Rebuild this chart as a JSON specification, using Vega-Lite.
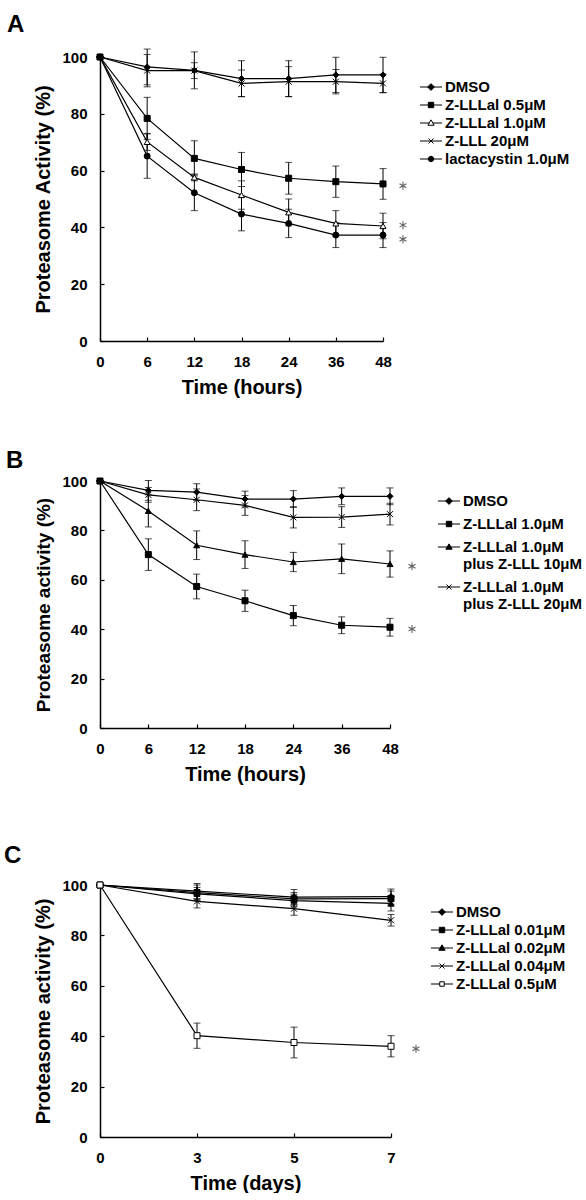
{
  "$schema": "https://vega.github.io/schema/vega-lite/v6.json",
  "padding": {"left": 4, "top": 12, "right": 0, "bottom": 0},
  "background": "white",
  "config": {
    "font": "Liberation Sans",
    "view": {"stroke": null},
    "axis": {"domainColor": "black", "domainWidth": 1.5, "tickColor": "black", "tickWidth": 1.2, "tickSize": -4, "labelFont": "Liberation Sans", "labelFontSize": 15, "labelFontWeight": "bold", "labelColor": "black", "titleFont": "Liberation Sans", "titleFontSize": 20, "titleFontWeight": "bold", "titleColor": "black", "grid": false},
    "axisX": {"labelPadding": 17, "titlePadding": 8, "labelAngle": 0},
    "axisY": {"labelPadding": 17, "titlePadding": 8},
    "legend": {"labelFont": "Liberation Sans", "labelFontSize": 15, "labelFontWeight": "bold", "labelColor": "black", "symbolSize": 225, "symbolStrokeWidth": 1, "labelOffset": 6, "rowPadding": 2, "padding": 0, "labelLimit": 300, "orient": "none"},
    "title": {"font": "Liberation Sans", "fontSize": 24, "fontWeight": "bold", "color": "black", "anchor": "start", "frame": "group", "baseline": "alphabetic"}
  },
  "datasets": {
    "A": [
      {"series": "DMSO", "t": 0, "mean": 100, "sd": 0},
      {"series": "DMSO", "t": 6, "mean": 96.5, "sd": 6.3},
      {"series": "DMSO", "t": 12, "mean": 95.3, "sd": 6.5},
      {"series": "DMSO", "t": 18, "mean": 92.4, "sd": 6.3},
      {"series": "DMSO", "t": 24, "mean": 92.4, "sd": 6.3},
      {"series": "DMSO", "t": 36, "mean": 93.7, "sd": 6.2},
      {"series": "DMSO", "t": 48, "mean": 93.7, "sd": 6.2},
      {"series": "Z-LLLal 0.5μM", "t": 0, "mean": 100, "sd": 0},
      {"series": "Z-LLLal 0.5μM", "t": 6, "mean": 78.4, "sd": 7.4},
      {"series": "Z-LLLal 0.5μM", "t": 12, "mean": 64.3, "sd": 6.2},
      {"series": "Z-LLLal 0.5μM", "t": 18, "mean": 60.4, "sd": 6.0},
      {"series": "Z-LLLal 0.5μM", "t": 24, "mean": 57.3, "sd": 5.6},
      {"series": "Z-LLLal 0.5μM", "t": 36, "mean": 56.1, "sd": 5.5},
      {"series": "Z-LLLal 0.5μM", "t": 48, "mean": 55.3, "sd": 5.4},
      {"series": "Z-LLLal 1.0μM", "t": 0, "mean": 100, "sd": 0},
      {"series": "Z-LLLal 1.0μM", "t": 6, "mean": 70.1, "sd": 3.0},
      {"series": "Z-LLLal 1.0μM", "t": 12, "mean": 57.6, "sd": 1.2},
      {"series": "Z-LLLal 1.0μM", "t": 18, "mean": 51.4, "sd": 5.0},
      {"series": "Z-LLLal 1.0μM", "t": 24, "mean": 45.3, "sd": 4.7},
      {"series": "Z-LLLal 1.0μM", "t": 36, "mean": 41.4, "sd": 4.5},
      {"series": "Z-LLLal 1.0μM", "t": 48, "mean": 40.5, "sd": 4.5},
      {"series": "Z-LLL 20μM", "t": 0, "mean": 100, "sd": 0},
      {"series": "Z-LLL 20μM", "t": 6, "mean": 95.2, "sd": 5.7},
      {"series": "Z-LLL 20μM", "t": 12, "mean": 95.2, "sd": 2.8},
      {"series": "Z-LLL 20μM", "t": 18, "mean": 90.7, "sd": 4.7},
      {"series": "Z-LLL 20μM", "t": 24, "mean": 91.3, "sd": 5.3},
      {"series": "Z-LLL 20μM", "t": 36, "mean": 91.3, "sd": 4.3},
      {"series": "Z-LLL 20μM", "t": 48, "mean": 90.7, "sd": 3.3},
      {"series": "lactacystin 1.0μM", "t": 0, "mean": 100, "sd": 0},
      {"series": "lactacystin 1.0μM", "t": 6, "mean": 65.1, "sd": 7.8},
      {"series": "lactacystin 1.0μM", "t": 12, "mean": 52.2, "sd": 6.3},
      {"series": "lactacystin 1.0μM", "t": 18, "mean": 44.7, "sd": 5.9},
      {"series": "lactacystin 1.0μM", "t": 24, "mean": 41.4, "sd": 5.0},
      {"series": "lactacystin 1.0μM", "t": 36, "mean": 37.3, "sd": 4.4},
      {"series": "lactacystin 1.0μM", "t": 48, "mean": 37.3, "sd": 4.4}
    ],
    "Astar": [
      {"t": 48, "y": 54.7},
      {"t": 48, "y": 40.8},
      {"t": 48, "y": 35.8}
    ],
    "B": [
      {"series": "DMSO", "t": 0, "mean": 100, "sd": 0},
      {"series": "DMSO", "t": 6, "mean": 96.2, "sd": 4.0},
      {"series": "DMSO", "t": 12, "mean": 95.5, "sd": 3.4},
      {"series": "DMSO", "t": 18, "mean": 92.7, "sd": 3.2},
      {"series": "DMSO", "t": 24, "mean": 92.7, "sd": 3.4},
      {"series": "DMSO", "t": 36, "mean": 93.8, "sd": 3.4},
      {"series": "DMSO", "t": 48, "mean": 93.8, "sd": 3.4},
      {"series": "Z-LLLal 1.0μM", "t": 0, "mean": 100, "sd": 0},
      {"series": "Z-LLLal 1.0μM", "t": 6, "mean": 70.2, "sd": 6.4},
      {"series": "Z-LLLal 1.0μM", "t": 12, "mean": 57.3, "sd": 5.0},
      {"series": "Z-LLLal 1.0μM", "t": 18, "mean": 51.5, "sd": 4.3},
      {"series": "Z-LLLal 1.0μM", "t": 24, "mean": 45.5, "sd": 4.1},
      {"series": "Z-LLLal 1.0μM", "t": 36, "mean": 41.6, "sd": 3.4},
      {"series": "Z-LLLal 1.0μM", "t": 48, "mean": 40.8, "sd": 3.6},
      {"series": "Z-LLLal 1.0μM plus Z-LLL 10μM", "t": 0, "mean": 100, "sd": 0},
      {"series": "Z-LLLal 1.0μM plus Z-LLL 10μM", "t": 6, "mean": 87.9, "sd": 6.5},
      {"series": "Z-LLLal 1.0μM plus Z-LLL 10μM", "t": 12, "mean": 74.0, "sd": 5.8},
      {"series": "Z-LLLal 1.0μM plus Z-LLL 10μM", "t": 18, "mean": 70.2, "sd": 5.6},
      {"series": "Z-LLLal 1.0μM plus Z-LLL 10μM", "t": 24, "mean": 67.2, "sd": 3.9},
      {"series": "Z-LLLal 1.0μM plus Z-LLL 10μM", "t": 36, "mean": 68.5, "sd": 6.0},
      {"series": "Z-LLLal 1.0μM plus Z-LLL 10μM", "t": 48, "mean": 66.4, "sd": 5.3},
      {"series": "Z-LLLal 1.0μM plus Z-LLL 20μM", "t": 0, "mean": 100, "sd": 0},
      {"series": "Z-LLLal 1.0μM plus Z-LLL 20μM", "t": 6, "mean": 94.4, "sd": 3.0},
      {"series": "Z-LLLal 1.0μM plus Z-LLL 20μM", "t": 12, "mean": 92.4, "sd": 4.4},
      {"series": "Z-LLLal 1.0μM plus Z-LLL 20μM", "t": 18, "mean": 90.1, "sd": 4.0},
      {"series": "Z-LLLal 1.0μM plus Z-LLL 20μM", "t": 24, "mean": 85.3, "sd": 4.3},
      {"series": "Z-LLLal 1.0μM plus Z-LLL 20μM", "t": 36, "mean": 85.4, "sd": 4.2},
      {"series": "Z-LLLal 1.0μM plus Z-LLL 20μM", "t": 48, "mean": 86.6, "sd": 4.4}
    ],
    "Bstar": [
      {"t": 48, "y": 65.5},
      {"t": 48, "y": 40.1}
    ],
    "C": [
      {"series": "DMSO", "t": 0, "mean": 100, "sd": 0},
      {"series": "DMSO", "t": 3, "mean": 97.6, "sd": 3.0},
      {"series": "DMSO", "t": 5, "mean": 95.2, "sd": 3.0},
      {"series": "DMSO", "t": 7, "mean": 95.4, "sd": 3.0},
      {"series": "Z-LLLal 0.01μM", "t": 0, "mean": 100, "sd": 0},
      {"series": "Z-LLLal 0.01μM", "t": 3, "mean": 97.0, "sd": 3.0},
      {"series": "Z-LLLal 0.01μM", "t": 5, "mean": 94.5, "sd": 2.5},
      {"series": "Z-LLLal 0.01μM", "t": 7, "mean": 94.6, "sd": 3.0},
      {"series": "Z-LLLal 0.02μM", "t": 0, "mean": 100, "sd": 0},
      {"series": "Z-LLLal 0.02μM", "t": 3, "mean": 96.5, "sd": 2.5},
      {"series": "Z-LLLal 0.02μM", "t": 5, "mean": 93.8, "sd": 2.5},
      {"series": "Z-LLLal 0.02μM", "t": 7, "mean": 92.7, "sd": 3.0},
      {"series": "Z-LLLal 0.04μM", "t": 0, "mean": 100, "sd": 0},
      {"series": "Z-LLLal 0.04μM", "t": 3, "mean": 93.5, "sd": 2.6},
      {"series": "Z-LLLal 0.04μM", "t": 5, "mean": 90.6, "sd": 2.6},
      {"series": "Z-LLLal 0.04μM", "t": 7, "mean": 86.0, "sd": 2.3},
      {"series": "Z-LLLal 0.5μM", "t": 0, "mean": 100, "sd": 0},
      {"series": "Z-LLLal 0.5μM", "t": 3, "mean": 40.2, "sd": 5.0},
      {"series": "Z-LLLal 0.5μM", "t": 5, "mean": 37.5, "sd": 6.1},
      {"series": "Z-LLLal 0.5μM", "t": 7, "mean": 36.0, "sd": 4.2}
    ],
    "Cstar": [
      {"t": 7, "y": 35}
    ]
  },
  "spacing": 52,
  "vconcat": [
    {
      "title": {"text": "A", "dx": -93, "offset": 12},
      "width": 283,
      "height": 284,
      "layer": [
        {"data": {"name": "A"}, "mark": {"type": "line", "color": "black", "strokeWidth": 1.2},
         "encoding": {
           "x": {"field": "t", "type": "ordinal", "scale": {"type": "point", "padding": 0}, "title": "Time (hours)"},
           "y": {"field": "mean", "type": "quantitative", "scale": {"domain": [0, 100], "nice": false}, "axis": {"values": [0, 20, 40, 60, 80, 100], "titleFontSize": 20}, "title": "Proteasome Activity (%)"},
           "detail": {"field": "series"}}},
        {"data": {"name": "A"}, "mark": {"type": "errorbar", "color": "black", "thickness": 1, "ticks": {"size": 7}},
         "encoding": {
           "x": {"field": "t", "type": "ordinal", "title": "Time (hours)"},
           "y": {"field": "mean", "type": "quantitative", "title": "Proteasome Activity (%)"},
           "yError": {"field": "sd"}}},
        {"data": {"name": "A"}, "mark": {"type": "point", "filled": true, "stroke": "black", "strokeWidth": 1, "size": 36, "opacity": 1},
         "encoding": {
           "x": {"field": "t", "type": "ordinal", "title": "Time (hours)"},
           "y": {"field": "mean", "type": "quantitative", "title": "Proteasome Activity (%)"},
           "shape": {"field": "series", "type": "nominal", "legend": null, "scale": {"domain": ["DMSO", "Z-LLLal 0.5μM", "Z-LLLal 1.0μM", "Z-LLL 20μM", "lactacystin 1.0μM"], "range": ["diamond", "square", "triangle-up", "M-1,-1L1,1M-1,1L1,-1", "circle"]}},
           "fill": {"field": "series", "type": "nominal", "legend": null, "scale": {"domain": ["DMSO", "Z-LLLal 0.5μM", "Z-LLLal 1.0μM", "Z-LLL 20μM", "lactacystin 1.0μM"], "range": ["black", "black", "white", "black", "black"]}}}},
        {"data": {"name": "Astar"}, "mark": {"type": "point", "shape": "M0,-1V1M-0.87,-0.5L0.87,0.5M-0.87,0.5L0.87,-0.5", "size": 64, "stroke": "#222222", "strokeWidth": 1.1, "filled": false, "xOffset": 20},
         "encoding": {
           "x": {"field": "t", "type": "ordinal", "title": "Time (hours)"},
           "y": {"field": "y", "type": "quantitative", "title": "Proteasome Activity (%)"}}},
        {"data": {"values": []}, "mark": {"type": "point", "filled": false, "strokeWidth": 1, "opacity": 1},
         "encoding": {
           "shape": {"field": "series", "type": "nominal", "legend": {"title": null, "legendX": 323, "legendY": 22}, "scale": {"domain": ["DMSO", "Z-LLLal 0.5μM", "Z-LLLal 1.0μM", "Z-LLL 20μM", "lactacystin 1.0μM"], "range": ["M-1.47,0H1.47M0,-0.45L0.45,0L0,0.45L-0.45,0Z", "M-1.47,0H1.47M-0.36,-0.36H0.36V0.36H-0.36Z", "M-1.47,0H-0.245M0.245,0H1.47M0,-0.42L0.42,0.3L-0.42,0.3Z", "M-1.47,0H1.47M-0.33,-0.33L0.33,0.33M-0.33,0.33L0.33,-0.33", "M-1.47,0H1.47M0.36,0A0.36,0.36,0,1,1,-0.36,0A0.36,0.36,0,1,1,0.36,0Z"]}},
           "fill": {"field": "series", "type": "nominal", "legend": {"title": null, "legendX": 323, "legendY": 22}, "scale": {"domain": ["DMSO", "Z-LLLal 0.5μM", "Z-LLLal 1.0μM", "Z-LLL 20μM", "lactacystin 1.0μM"], "range": ["black", "black", "white", "black", "black"]}},
           "stroke": {"field": "series", "type": "nominal", "legend": {"title": null, "legendX": 323, "legendY": 22}, "scale": {"domain": ["DMSO", "Z-LLLal 0.5μM", "Z-LLLal 1.0μM", "Z-LLL 20μM", "lactacystin 1.0μM"], "range": ["black", "black", "black", "black", "black"]}}}}
      ],
      "resolve": {"scale": {"shape": "independent", "fill": "independent", "stroke": "independent"}}
    },
    {
      "vconcat": [
        {
          "title": {"text": "B", "dx": -94, "offset": 1},
          "width": 290,
          "height": 247,
          "layer": [
            {"data": {"name": "B"}, "mark": {"type": "line", "color": "black", "strokeWidth": 1.2},
             "encoding": {
               "x": {"field": "t", "type": "ordinal", "scale": {"type": "point", "padding": 0}, "title": "Time (hours)"},
               "y": {"field": "mean", "type": "quantitative", "scale": {"domain": [0, 100], "nice": false}, "axis": {"values": [0, 20, 40, 60, 80, 100], "titleFontSize": 19}, "title": "Proteasome activity (%)"},
               "detail": {"field": "series"}}},
            {"data": {"name": "B"}, "mark": {"type": "errorbar", "color": "black", "thickness": 1, "ticks": {"size": 7}},
             "encoding": {
               "x": {"field": "t", "type": "ordinal", "title": "Time (hours)"},
               "y": {"field": "mean", "type": "quantitative", "title": "Proteasome activity (%)"},
               "yError": {"field": "sd"}}},
            {"data": {"name": "B"}, "mark": {"type": "point", "filled": true, "stroke": "black", "strokeWidth": 1, "size": 36, "opacity": 1},
             "encoding": {
               "x": {"field": "t", "type": "ordinal", "title": "Time (hours)"},
               "y": {"field": "mean", "type": "quantitative", "title": "Proteasome activity (%)"},
               "shape": {"field": "series", "type": "nominal", "legend": null, "scale": {"domain": ["DMSO", "Z-LLLal 1.0μM", "Z-LLLal 1.0μM plus Z-LLL 10μM", "Z-LLLal 1.0μM plus Z-LLL 20μM"], "range": ["diamond", "square", "triangle-up", "M-1,-1L1,1M-1,1L1,-1"]}},
               "fill": {"field": "series", "type": "nominal", "legend": null, "scale": {"domain": ["DMSO", "Z-LLLal 1.0μM", "Z-LLLal 1.0μM plus Z-LLL 10μM", "Z-LLLal 1.0μM plus Z-LLL 20μM"], "range": ["black", "black", "black", "black"]}}}},
            {"data": {"name": "Bstar"}, "mark": {"type": "point", "shape": "M0,-1V1M-0.87,-0.5L0.87,0.5M-0.87,0.5L0.87,-0.5", "size": 64, "stroke": "#222222", "strokeWidth": 1.1, "filled": false, "xOffset": 22},
             "encoding": {
               "x": {"field": "t", "type": "ordinal", "title": "Time (hours)"},
               "y": {"field": "y", "type": "quantitative", "title": "Proteasome activity (%)"}}},
            {"data": {"values": []}, "mark": {"type": "point", "filled": false, "strokeWidth": 1, "opacity": 1},
             "encoding": {
               "shape": {"field": "series", "type": "nominal", "legend": {"title": null, "legendX": 341, "legendY": 12, "rowPadding": 7, "labelExpr": "indexof(datum.label, ' plus') > 0 ? [slice(datum.label, 0, indexof(datum.label, ' plus')), slice(datum.label, indexof(datum.label, ' plus') + 1)] : datum.label"}, "scale": {"domain": ["DMSO", "Z-LLLal 1.0μM", "Z-LLLal 1.0μM plus Z-LLL 10μM", "Z-LLLal 1.0μM plus Z-LLL 20μM"], "range": ["M-1.47,0H1.47M0,-0.45L0.45,0L0,0.45L-0.45,0Z", "M-1.47,0H1.47M-0.36,-0.36H0.36V0.36H-0.36Z", "M-1.47,0H1.47M0,-0.42L0.42,0.3L-0.42,0.3Z", "M-1.47,0H1.47M-0.33,-0.33L0.33,0.33M-0.33,0.33L0.33,-0.33"]}},
               "fill": {"field": "series", "type": "nominal", "legend": {"title": null, "legendX": 341, "legendY": 12, "rowPadding": 7, "labelExpr": "indexof(datum.label, ' plus') > 0 ? [slice(datum.label, 0, indexof(datum.label, ' plus')), slice(datum.label, indexof(datum.label, ' plus') + 1)] : datum.label"}, "scale": {"domain": ["DMSO", "Z-LLLal 1.0μM", "Z-LLLal 1.0μM plus Z-LLL 10μM", "Z-LLLal 1.0μM plus Z-LLL 20μM"], "range": ["black", "black", "black", "black"]}},
               "stroke": {"field": "series", "type": "nominal", "legend": {"title": null, "legendX": 341, "legendY": 12, "rowPadding": 7, "labelExpr": "indexof(datum.label, ' plus') > 0 ? [slice(datum.label, 0, indexof(datum.label, ' plus')), slice(datum.label, indexof(datum.label, ' plus') + 1)] : datum.label"}, "scale": {"domain": ["DMSO", "Z-LLLal 1.0μM", "Z-LLLal 1.0μM plus Z-LLL 10μM", "Z-LLLal 1.0μM plus Z-LLL 20μM"], "range": ["black", "black", "black", "black"]}}}}
          ],
          "resolve": {"scale": {"shape": "independent", "fill": "independent", "stroke": "independent"}}
        },
        {
          "title": {"text": "C", "dx": -96, "offset": 10},
          "width": 291,
          "height": 252,
          "layer": [
            {"data": {"name": "C"}, "mark": {"type": "line", "color": "black", "strokeWidth": 1.2},
             "encoding": {
               "x": {"field": "t", "type": "ordinal", "scale": {"type": "point", "padding": 0}, "title": "Time (days)"},
               "y": {"field": "mean", "type": "quantitative", "scale": {"domain": [0, 100], "nice": false}, "axis": {"values": [0, 20, 40, 60, 80, 100], "titleFontSize": 20}, "title": "Proteasome activity (%)"},
               "detail": {"field": "series"}}},
            {"data": {"name": "C"}, "mark": {"type": "errorbar", "color": "black", "thickness": 1, "ticks": {"size": 7}},
             "encoding": {
               "x": {"field": "t", "type": "ordinal", "title": "Time (days)"},
               "y": {"field": "mean", "type": "quantitative", "title": "Proteasome activity (%)"},
               "yError": {"field": "sd"}}},
            {"data": {"name": "C"}, "mark": {"type": "point", "filled": true, "stroke": "black", "strokeWidth": 1, "size": 36, "opacity": 1},
             "encoding": {
               "x": {"field": "t", "type": "ordinal", "title": "Time (days)"},
               "y": {"field": "mean", "type": "quantitative", "title": "Proteasome activity (%)"},
               "shape": {"field": "series", "type": "nominal", "legend": null, "scale": {"domain": ["DMSO", "Z-LLLal 0.01μM", "Z-LLLal 0.02μM", "Z-LLLal 0.04μM", "Z-LLLal 0.5μM"], "range": ["diamond", "square", "triangle-up", "M-1,-1L1,1M-1,1L1,-1", "square"]}},
               "fill": {"field": "series", "type": "nominal", "legend": null, "scale": {"domain": ["DMSO", "Z-LLLal 0.01μM", "Z-LLLal 0.02μM", "Z-LLLal 0.04μM", "Z-LLLal 0.5μM"], "range": ["black", "black", "black", "black", "white"]}}}},
            {"data": {"name": "Cstar"}, "mark": {"type": "point", "shape": "M0,-1V1M-0.87,-0.5L0.87,0.5M-0.87,0.5L0.87,-0.5", "size": 64, "stroke": "#222222", "strokeWidth": 1.1, "filled": false, "xOffset": 25},
             "encoding": {
               "x": {"field": "t", "type": "ordinal", "title": "Time (days)"},
               "y": {"field": "y", "type": "quantitative", "title": "Proteasome activity (%)"}}},
            {"data": {"values": []}, "mark": {"type": "point", "filled": false, "strokeWidth": 1, "opacity": 1},
             "encoding": {
               "shape": {"field": "series", "type": "nominal", "legend": {"title": null, "legendX": 334, "legendY": 19}, "scale": {"domain": ["DMSO", "Z-LLLal 0.01μM", "Z-LLLal 0.02μM", "Z-LLLal 0.04μM", "Z-LLLal 0.5μM"], "range": ["M-1.47,0H1.47M0,-0.45L0.45,0L0,0.45L-0.45,0Z", "M-1.47,0H1.47M-0.36,-0.36H0.36V0.36H-0.36Z", "M-1.47,0H1.47M0,-0.42L0.42,0.3L-0.42,0.3Z", "M-1.47,0H1.47M-0.33,-0.33L0.33,0.33M-0.33,0.33L0.33,-0.33", "M-1.47,0H-0.3M0.3,0H1.47M-0.3,-0.3H0.3V0.3H-0.3Z"]}},
               "fill": {"field": "series", "type": "nominal", "legend": {"title": null, "legendX": 334, "legendY": 19}, "scale": {"domain": ["DMSO", "Z-LLLal 0.01μM", "Z-LLLal 0.02μM", "Z-LLLal 0.04μM", "Z-LLLal 0.5μM"], "range": ["black", "black", "black", "black", "white"]}},
               "stroke": {"field": "series", "type": "nominal", "legend": {"title": null, "legendX": 334, "legendY": 19}, "scale": {"domain": ["DMSO", "Z-LLLal 0.01μM", "Z-LLLal 0.02μM", "Z-LLLal 0.04μM", "Z-LLLal 0.5μM"], "range": ["black", "black", "black", "black", "black"]}}}}
          ],
          "resolve": {"scale": {"shape": "independent", "fill": "independent", "stroke": "independent"}}
        }
      ],
      "spacing": 157,
      "bounds": "flush"
    }
  ]
}
